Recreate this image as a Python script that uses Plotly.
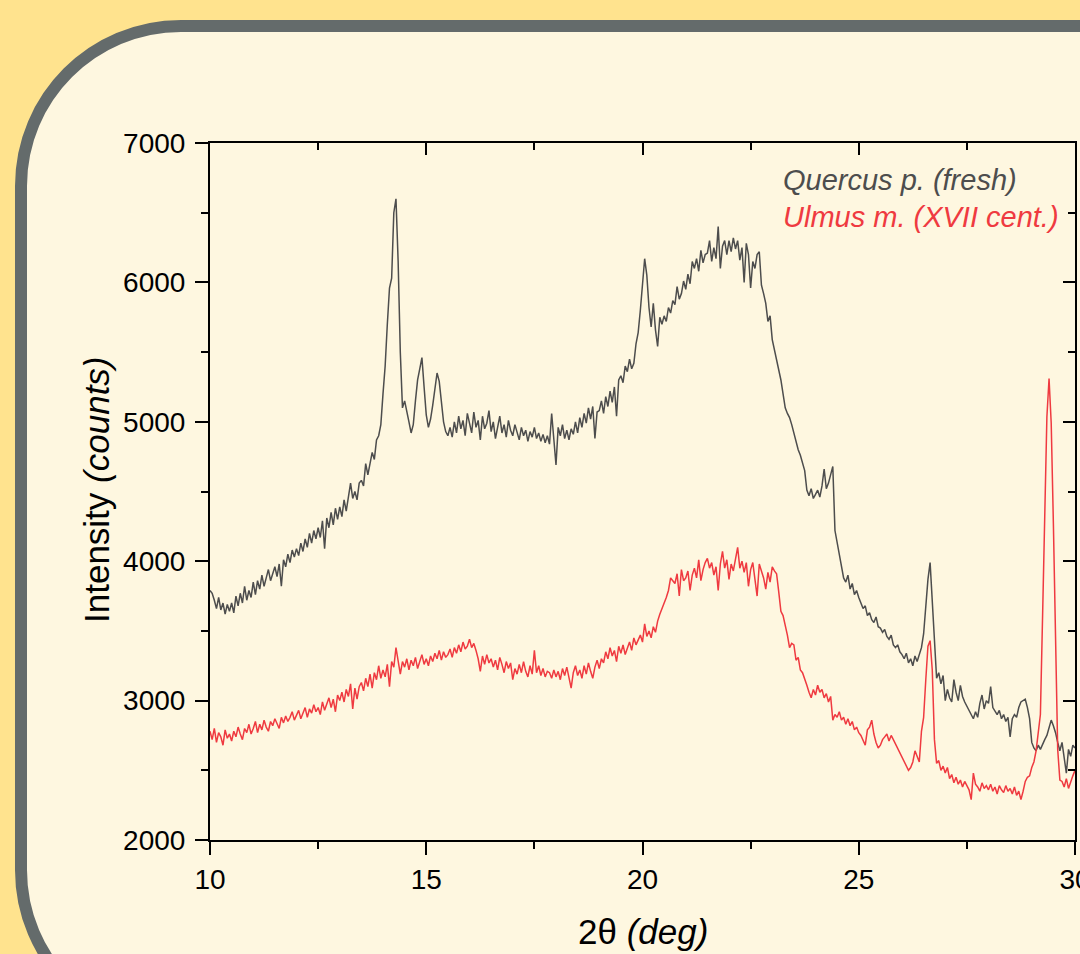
import plotly.graph_objects as go

# ---------------- data ----------------
theta_start = 10.0
theta_step = 0.05
n_points = 401
two_theta = [round(theta_start + theta_step * i, 2) for i in range(n_points)]

x_ticks = [10, 15, 20, 25, 30]
y_ticks = [2000, 3000, 4000, 5000, 6000, 7000]

quercus_counts = [
    3790, 3770, 3720, 3660, 3740, 3650, 3700, 3620, 3690, 3640,
    3700, 3630, 3750, 3680, 3770, 3700, 3820, 3720, 3790, 3740,
    3850, 3760, 3860, 3800, 3900, 3820, 3880, 3940, 3860, 3920,
    3960, 3890, 3980, 3820, 4010, 3960, 4050, 3990, 4080, 4030,
    4090, 4040, 4130, 4070, 4160, 4100, 4200, 4130, 4220, 4160,
    4240, 4170, 4290, 4090, 4310, 4240, 4350, 4260, 4380, 4300,
    4390, 4320, 4440, 4360, 4470, 4560, 4450, 4500, 4440, 4560,
    4580, 4540, 4700, 4620, 4700, 4780, 4730, 4870, 4900, 4980,
    5200, 5400, 5700, 5960, 6030, 6500, 6600, 6150, 5500, 5100,
    5150, 5060, 5000, 4920, 4980, 5150, 5300, 5380, 5460, 5250,
    5050, 4960, 5020, 5120, 5250, 5350, 5290, 5120, 5000, 4930,
    4900, 4960, 4890, 5000, 4920, 5040, 4950, 5010, 4900, 5060,
    4990, 4920, 5070, 4960, 5010, 4870, 5040, 4950, 4990, 5080,
    4930, 5000, 4880, 4960, 5040, 4920, 4980, 4890, 5010, 4940,
    4900, 4980, 4920, 4870, 4960, 4900, 4940, 4860, 4930, 4890,
    4960, 4880, 4920, 4860, 4910, 4850, 4900, 4840, 5060, 4900,
    4690, 4960, 4900, 4980, 4880, 4940, 4870, 4950, 4910, 5000,
    4920, 5030, 4960, 5060, 4990, 5100, 5020, 5110, 4880, 5070,
    5080, 5150, 5060, 5180, 5110, 5220, 5140, 5250, 5040, 5300,
    5330, 5280, 5400, 5360, 5450, 5380, 5420, 5560, 5640, 5800,
    6000, 6170, 6050, 5820, 5680, 5850, 5660, 5540, 5750, 5700,
    5760, 5720, 5820, 5780, 5870, 5840, 5970, 5880, 5920, 6010,
    5950, 6060, 5990, 6150, 6100, 6170, 6080, 6230, 6140, 6200,
    6210, 6300, 6150, 6250, 6170, 6400, 6100, 6260, 6300, 6200,
    6300, 6220, 6320, 6240, 6300, 6160, 6250, 6000, 6280, 6200,
    5960, 6150, 6100, 6200, 6220, 5980, 5920, 5850, 5720, 5760,
    5590, 5520, 5440, 5370, 5300, 5200, 5100, 5060, 5030, 4980,
    4920, 4850, 4800, 4760, 4700, 4650, 4510, 4470, 4520, 4450,
    4480, 4510, 4460, 4540, 4660, 4520, 4560, 4620, 4680, 4220,
    4130, 4040, 3960, 3880, 3850, 3900, 3800, 3840, 3760, 3790,
    3740, 3700, 3660, 3680, 3610, 3630, 3580, 3560, 3600, 3530,
    3520, 3490, 3510, 3460, 3440, 3470, 3400, 3380, 3400, 3350,
    3330, 3300, 3340, 3270, 3300, 3250, 3320, 3280, 3340, 3380,
    3480, 3680, 3870, 3990, 3720, 3360, 3160, 3200, 3120, 3180,
    3000, 3080, 3020, 2990, 3150, 3060, 3000, 3110, 3030, 2990,
    2960, 2940, 2900, 2870, 2920, 2880, 2980, 3040, 2940, 3000,
    2980, 3100, 2950, 2920, 2900, 2930, 2870, 2900, 2850, 2880,
    2740, 2870, 2900, 2880, 2950, 2990, 3000, 3010, 2950, 2870,
    2700, 2660, 2640, 2680, 2650, 2690, 2720, 2750, 2800, 2860,
    2820, 2770, 2700, 2640, 2700, 2600, 2480, 2650, 2600, 2680,
    2660,
]

ulmus_counts = [
    2780, 2720, 2800, 2700, 2770, 2740, 2680, 2790, 2730, 2760,
    2710, 2780, 2740, 2810, 2760, 2720, 2800, 2770, 2830, 2760,
    2800, 2850, 2770, 2830, 2790, 2860, 2810, 2780, 2850, 2820,
    2870, 2830, 2800, 2880, 2840, 2890, 2850, 2880, 2920, 2860,
    2890, 2930, 2870, 2910, 2950, 2880, 2940, 2910, 2970, 2920,
    2950, 2900, 2990, 2930, 2970, 3020, 2950, 3010, 2920, 3040,
    3000, 3060, 2990, 3080, 3030, 3120, 2940, 3090, 3010, 3100,
    3130, 3070, 3160, 3100, 3190, 3090, 3200, 3150, 3250, 3160,
    3220, 3170, 3260, 3100, 3280, 3240, 3380, 3270, 3190, 3280,
    3240, 3300, 3220, 3290, 3250, 3310, 3230, 3280, 3330, 3260,
    3300, 3250, 3320, 3280, 3340, 3300, 3360, 3290, 3350, 3310,
    3330, 3370, 3310, 3380, 3340, 3400, 3350, 3420, 3370, 3390,
    3440, 3380, 3410, 3360, 3300, 3210, 3320, 3260, 3330, 3270,
    3300, 3240, 3290, 3220, 3310, 3260, 3200, 3280, 3230, 3270,
    3150, 3230, 3190, 3260, 3200, 3280, 3210, 3170, 3250, 3190,
    3360, 3200, 3250, 3180, 3230, 3170, 3210, 3200, 3160, 3220,
    3170, 3210, 3150, 3230, 3180, 3240, 3160, 3090, 3200, 3250,
    3180, 3220, 3160, 3250, 3190, 3270, 3210, 3160, 3240, 3290,
    3230, 3300, 3270, 3350, 3300, 3380, 3320, 3360, 3280, 3390,
    3340, 3400, 3330, 3380, 3420, 3360, 3450, 3400, 3440, 3470,
    3420, 3550, 3460, 3500, 3450, 3530, 3490, 3570, 3620, 3660,
    3690, 3740, 3790, 3880, 3860, 3840, 3910, 3750, 3940, 3860,
    3880, 3930, 3790, 3900, 3950, 3880, 4010, 3860, 3940, 3990,
    4020, 3950, 3990, 3900, 3960, 3790, 3980, 4070, 3950, 4010,
    3870, 3980, 3930, 4030, 4100, 3950, 4000, 3920, 3990, 3820,
    3940, 3990, 3880, 3750, 3980, 3930, 3880, 3800, 3920, 3850,
    3960, 3930, 3910, 3780, 3640, 3610, 3550, 3470, 3380, 3410,
    3400, 3290, 3310, 3220, 3200, 3160, 3110, 3060, 3020, 3080,
    3040, 3110, 3060, 3080, 3020, 3050, 2990, 3030, 2860, 2900,
    2880, 2920, 2860, 2880, 2830, 2870, 2820, 2850, 2790, 2810,
    2770, 2750, 2720, 2680, 2790, 2810, 2860, 2760, 2700, 2660,
    2680, 2720, 2740, 2760, 2710, 2750, 2720, 2690, 2660, 2630,
    2600, 2570, 2530, 2500, 2520, 2560, 2640, 2600, 2560, 2780,
    2880, 3150, 3390, 3430, 3220, 2720, 2550, 2570, 2500, 2530,
    2480, 2520, 2440, 2470, 2410, 2450, 2400, 2430, 2380, 2420,
    2390, 2360, 2290, 2480, 2400, 2380, 2350, 2410, 2370, 2390,
    2360, 2400, 2350, 2380, 2330, 2390, 2360, 2340, 2390, 2350,
    2370, 2330, 2380, 2320, 2350, 2290, 2350, 2420, 2450, 2460,
    2520, 2560, 2640, 2760, 2900, 3600, 4320, 5035, 5310, 4990,
    4270, 3500, 2650, 2430, 2420, 2380, 2440, 2370, 2420, 2460,
    2500,
]

series_names = ["Quercus p. (fresh)", "Ulmus m. (XVII cent.)"]

# ---------------- styling ----------------
W, H = 1080, 954
ML, MR, MT, MB = 210, 5, 143, 114
PW, PH = W - ML - MR, H - MT - MB

FONT = "Liberation Sans, Arial, Helvetica, sans-serif"
C_DARK = "#4D4D4D"
C_RED = "#EF3A40"
C_OUTER = "#FFE38E"
C_PANEL = "#FEF7E0"
C_BORDER = "#646B6B"


def px(x):
    return (x - ML) / PW


def py(y):
    return (H - MB - y) / PH


# rounded panel path (pixel geometry -> paper coords)
R = 160
k = 0.5523 * R
Lx, Ty, By, Rx = 21, 26, 1030, 1400
pts = [
    ("M", [(Lx, Ty + R)]),
    ("L", [(Lx, By - R)]),
    ("C", [(Lx, By - R + k), (Lx + R - k, By), (Lx + R, By)]),
    ("L", [(Rx, By)]),
    ("L", [(Rx, Ty)]),
    ("L", [(Lx + R, Ty)]),
    ("C", [(Lx + R - k, Ty), (Lx, Ty + R - k), (Lx, Ty + R)]),
]
path = ""
for cmd, coords in pts:
    path += cmd + " " + " ".join(f"{px(a):.5f},{py(b):.5f}" for a, b in coords) + " "
path += "Z"

fig = go.Figure()
fig.add_trace(go.Scatter(
    x=two_theta, y=quercus_counts, mode="lines", name=series_names[0],
    line=dict(color=C_DARK, width=1.5), xaxis="x", yaxis="y", showlegend=False,
))
fig.add_trace(go.Scatter(
    x=two_theta, y=ulmus_counts, mode="lines", name=series_names[1],
    line=dict(color=C_RED, width=1.5), xaxis="x2", yaxis="y2", showlegend=False,
))

axis_common = dict(
    showgrid=False, zeroline=False, showline=True, linecolor="black", linewidth=2,
    tickcolor="black", tickwidth=2, automargin=False,
    tickfont=dict(family=FONT, size=28, color="black"),
)

fig.update_layout(
    template="none",
    width=W, height=H,
    margin=dict(l=ML, r=MR, t=MT, b=MB, pad=0),
    paper_bgcolor=C_OUTER,
    plot_bgcolor="rgba(0,0,0,0)",
    font=dict(family=FONT, color="black"),
    xaxis=dict(
        range=[10, 30], tickvals=x_ticks, ticks="outside", ticklen=13,
        ticklabeloverflow="allow",
        minor=dict(ticks="outside", ticklen=7, tickwidth=2, tickcolor="black",
                   dtick=2.5, tick0=10, showgrid=False),
        anchor="y", **axis_common,
    ),
    yaxis=dict(
        range=[2000, 7000], tickvals=y_ticks, ticks="outside", ticklen=13,
        ticklabeloverflow="allow", ticklabelstandoff=4,
        minor=dict(ticks="outside", ticklen=7, tickwidth=2, tickcolor="black",
                   dtick=500, tick0=2000, showgrid=False),
        anchor="x", **axis_common,
    ),
    xaxis2=dict(
        range=[10, 30], matches="x", overlaying="x", side="top", anchor="y",
        tickvals=x_ticks, ticks="inside", ticklen=12, showticklabels=False,
        minor=dict(ticks="inside", ticklen=7, tickwidth=2, tickcolor="black",
                   dtick=2.5, tick0=10, showgrid=False),
        **axis_common,
    ),
    yaxis2=dict(
        range=[2000, 7000], matches="y", overlaying="y", side="right", anchor="x",
        tickvals=y_ticks, ticks="inside", ticklen=12, showticklabels=False,
        minor=dict(ticks="inside", ticklen=7, tickwidth=2, tickcolor="black",
                   dtick=500, tick0=2000, showgrid=False),
        **axis_common,
    ),
    shapes=[dict(
        type="path", xref="paper", yref="paper", path=path,
        fillcolor=C_PANEL, line=dict(color=C_BORDER, width=12), layer="below",
    )],
    annotations=[
        dict(text="<i>" + series_names[0] + "</i>", xref="paper", yref="paper",
             x=px(781), y=py(180), xanchor="left", yanchor="middle", showarrow=False,
             font=dict(family=FONT, size=29, color=C_DARK)),
        dict(text="<i>" + series_names[1] + "</i>", xref="paper", yref="paper",
             x=px(781), y=py(217), xanchor="left", yanchor="middle", showarrow=False,
             font=dict(family=FONT, size=29, color=C_RED)),
        dict(text="Intensity <i>(counts)</i>", xref="paper", yref="paper",
             x=px(97), y=py(490), xanchor="center", yanchor="middle", showarrow=False,
             textangle=-90, font=dict(family=FONT, size=35, color="black")),
        dict(text="2θ <i>(deg)</i>", xref="paper", yref="paper",
             x=px(643), y=py(931), xanchor="center", yanchor="middle", showarrow=False,
             font=dict(family=FONT, size=35, color="black")),
    ],
)

fig.write_html(
    "out.html",
    config={"displayModeBar": False},
    post_script="document.body.style.margin='0';document.body.style.overflow='hidden';",
)
